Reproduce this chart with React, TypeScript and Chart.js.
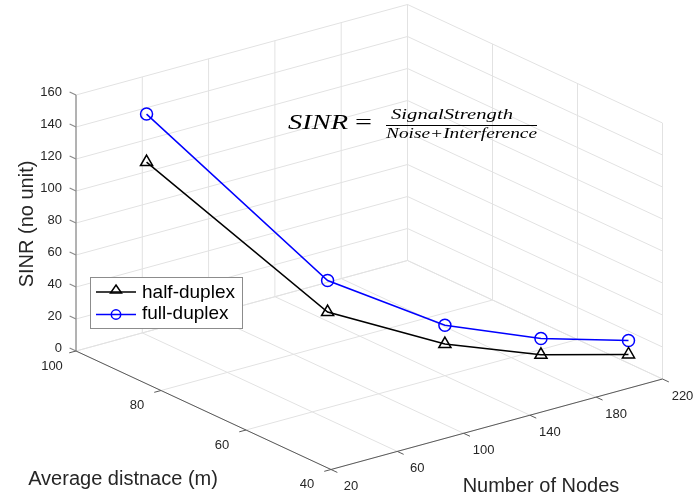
import React, { useEffect, useRef } from 'react';
import { Chart, registerables } from 'chart.js';

Chart.register(...registerables);

const W = 697;
const H = 497;

// ---- data ----
const nodeTicks = [20, 60, 100, 140, 180, 220];
const distanceTicks = [40, 60, 80, 100];
const sinrTicks = [0, 20, 40, 60, 80, 100, 120, 140, 160];

const numberOfNodes = [60, 100, 140, 180, 220];
const averageDistance = [99, 72, 60, 53, 48];
const halfDuplexSINR = [108, 36.3, 19.8, 10.4, 5.5];
const fullDuplexSINR = [138, 56, 31.5, 20.6, 14.2];

const seriesLabels = ['half-duplex', 'full-duplex'];
const axisTitles = { nodes: 'Number of Nodes', distance: 'Average distnace (m)', sinr: 'SINR (no unit)' };
const equation = { lhs: 'SINR', num: 'SignalStrength', den: 'Noise+Interference' };

// ---- 3D view (orthographic projection onto the page) ----
const VIEW = { ox: 76, oy: 351, n0: 20, d0: 100, nx: 1.6575, ny: -0.4525, dx: -4.25, dy: -1.975, zy: -1.6 };

function project(n: number, d: number, z: number) {
  return {
    x: VIEW.ox + (n - VIEW.n0) * VIEW.nx + (d - VIEW.d0) * VIEW.dx,
    y: VIEW.oy + (n - VIEW.n0) * VIEW.ny + (d - VIEW.d0) * VIEW.dy + z * VIEW.zy,
  };
}

const SANS = '"Liberation Sans", Arial, Helvetica, sans-serif';
const SERIF = '"Liberation Serif", "Times New Roman", serif';
const TEXT = '#262626';

function unit(x: number, y: number) {
  const l = Math.hypot(x, y);
  return [x / l, y / l];
}

const box3d = {
  id: 'box3d',
  beforeDatasetsDraw(chart: any) {
    const ctx = chart.ctx as CanvasRenderingContext2D;
    const sx = chart.scales.x;
    const sy = chart.scales.y;
    const P = (n: number, d: number, z: number) => {
      const p = project(n, d, z);
      return [sx.getPixelForValue(p.x), sy.getPixelForValue(p.y)];
    };
    const seg = (a: number[], b: number[]) => {
      ctx.beginPath();
      ctx.moveTo(a[0], a[1]);
      ctx.lineTo(b[0], b[1]);
      ctx.stroke();
    };
    const nMin = nodeTicks[0], nMax = nodeTicks[nodeTicks.length - 1];
    const dMin = distanceTicks[0], dMax = distanceTicks[distanceTicks.length - 1];
    const zMin = sinrTicks[0], zMax = sinrTicks[sinrTicks.length - 1];

    ctx.save();
    ctx.strokeStyle = '#e2e2e2';
    ctx.lineWidth = 1;
    // floor
    nodeTicks.forEach((n) => seg(P(n, dMax, zMin), P(n, dMin, zMin)));
    distanceTicks.forEach((d) => seg(P(nMin, d, zMin), P(nMax, d, zMin)));
    // back wall
    nodeTicks.forEach((n) => seg(P(n, dMax, zMin), P(n, dMax, zMax)));
    sinrTicks.forEach((z) => seg(P(nMin, dMax, z), P(nMax, dMax, z)));
    // side wall
    distanceTicks.forEach((d) => seg(P(nMax, d, zMin), P(nMax, d, zMax)));
    sinrTicks.forEach((z) => seg(P(nMax, dMax, z), P(nMax, dMin, z)));

    const nd = unit(VIEW.nx, VIEW.ny);
    const dd = unit(VIEW.dx, VIEW.dy);
    const TL = 7;

    // z axis
    ctx.strokeStyle = '#8a8a8a';
    ctx.lineWidth = 1.2;
    seg(P(nMin, dMax, zMin), P(nMin, dMax, zMax));
    sinrTicks.forEach((z) => {
      const a = P(nMin, dMax, z);
      seg(a, [a[0] + dd[0] * TL, a[1] + dd[1] * TL]);
    });
    // distance & nodes axes
    ctx.strokeStyle = '#5a5a5a';
    ctx.lineWidth = 1;
    seg(P(nMin, dMax, zMin), P(nMin, dMin, zMin));
    distanceTicks.forEach((d) => {
      const a = P(nMin, d, zMin);
      seg(a, [a[0] - nd[0] * TL, a[1] - nd[1] * TL]);
    });
    seg(P(nMin, dMin, zMin), P(nMax, dMin, zMin));
    nodeTicks.forEach((n) => {
      const a = P(n, dMin, zMin);
      seg(a, [a[0] - dd[0] * TL, a[1] - dd[1] * TL]);
    });

    // tick labels
    ctx.fillStyle = TEXT;
    ctx.font = `13px ${SANS}`;
    ctx.textBaseline = 'alphabetic';
    ctx.textAlign = 'right';
    sinrTicks.forEach((z) => {
      const a = P(nMin, dMax, z);
      ctx.fillText(String(z), a[0] - 14, a[1] + 1.4);
    });
    ctx.textAlign = 'center';
    distanceTicks.forEach((d) => {
      const a = P(nMin, d, zMin);
      ctx.fillText(String(d), a[0] - 24, a[1] + 18.5);
    });
    nodeTicks.forEach((n) => {
      const a = P(n, dMin, zMin);
      ctx.fillText(String(n), a[0] + 20, a[1] + 20.5);
    });

    // axis titles
    ctx.font = `20px ${SANS}`;
    ctx.textAlign = 'center';
    ctx.fillText(axisTitles.distance, 123, 485);
    ctx.fillText(axisTitles.nodes, 541, 491.5);
    ctx.save();
    ctx.translate(33, 224);
    ctx.rotate(-Math.PI / 2);
    ctx.fillText(axisTitles.sinr, 0, 0);
    ctx.restore();
    ctx.restore();
  },
  afterDatasetsDraw(chart: any) {
    const ctx = chart.ctx as CanvasRenderingContext2D;
    ctx.save();

    // equation
    const fitText = (t: string, x: number, baseline: number, width: number, font: string) => {
      ctx.font = font;
      const m = ctx.measureText(t).width;
      ctx.save();
      ctx.translate(x, baseline);
      ctx.scale(width / m, 1);
      ctx.textAlign = 'left';
      ctx.textBaseline = 'alphabetic';
      ctx.fillText(t, 0, 0);
      ctx.restore();
    };
    ctx.fillStyle = '#000';
    fitText(equation.lhs, 288, 129, 60, `italic 22px ${SERIF}`);
    fitText('=', 355, 129, 17, `22px ${SERIF}`);
    fitText(equation.num, 391, 119, 122, `italic 15px ${SERIF}`);
    fitText(equation.den, 386, 137.5, 151, `italic 15px ${SERIF}`);
    ctx.strokeStyle = '#000';
    ctx.lineWidth = 1;
    ctx.beginPath();
    ctx.moveTo(386, 125.5);
    ctx.lineTo(537, 125.5);
    ctx.stroke();

    // legend
    const lx = 90.5, ly = 277.5, lw = 152, lh = 51;
    ctx.fillStyle = '#ffffff';
    ctx.fillRect(lx, ly, lw, lh);
    ctx.strokeStyle = '#8c8c8c';
    ctx.lineWidth = 1;
    ctx.strokeRect(lx, ly, lw, lh);
    const rows = [292, 314.5];
    chart.data.datasets.forEach((ds: any, i: number) => {
      const y = rows[i];
      ctx.strokeStyle = ds.borderColor;
      ctx.lineWidth = 1.5;
      ctx.beginPath();
      ctx.moveTo(96, y);
      ctx.lineTo(136, y);
      ctx.stroke();
      const cx = 116;
      ctx.beginPath();
      if (ds.pointStyle === 'triangle') {
        ctx.moveTo(cx, y - 7);
        ctx.lineTo(cx + 5.5, y + 1);
        ctx.lineTo(cx - 5.5, y + 1);
        ctx.closePath();
      } else {
        ctx.arc(cx, y, 4.7, 0, Math.PI * 2);
      }
      ctx.stroke();
      ctx.fillStyle = '#000';
      ctx.font = `19px ${SANS}`;
      ctx.textAlign = 'left';
      ctx.textBaseline = 'middle';
      ctx.fillText(ds.label, 142, i === 0 ? 293 : 313.5);
    });
    ctx.restore();
  },
};

const toPoints = (vals: number[]) => numberOfNodes.map((n, i) => project(n, averageDistance[i], vals[i]));

export default function App() {
  const ref = useRef<HTMLCanvasElement | null>(null);
  useEffect(() => {
    document.body.style.margin = '0';
    if (!ref.current) return;
    const chart = new Chart(ref.current, {
      type: 'scatter',
      data: {
        datasets: [
          {
            label: seriesLabels[0],
            data: toPoints(halfDuplexSINR),
            showLine: true,
            borderColor: '#000000',
            backgroundColor: 'rgba(0,0,0,0)',
            borderWidth: 1.5,
            pointStyle: 'triangle',
            pointRadius: 7,
            pointBorderWidth: 1.5,
            pointBackgroundColor: 'rgba(0,0,0,0)',
            clip: false,
          },
          {
            label: seriesLabels[1],
            data: toPoints(fullDuplexSINR),
            showLine: true,
            borderColor: '#0000ff',
            backgroundColor: 'rgba(0,0,0,0)',
            borderWidth: 1.5,
            pointStyle: 'circle',
            pointRadius: 6,
            pointBorderWidth: 1.5,
            pointBackgroundColor: 'rgba(0,0,0,0)',
            clip: false,
          },
        ] as any,
      },
      options: {
        responsive: false,
        animation: false,
        layout: { padding: 0, autoPadding: false },
        plugins: { legend: { display: false }, tooltip: { enabled: false } },
        scales: {
          x: { type: 'linear', min: 0, max: W, display: false },
          y: { type: 'linear', min: 0, max: H, reverse: true, display: false },
        },
      },
      plugins: [box3d],
    });
    return () => chart.destroy();
  }, []);
  return (
    <canvas
      ref={ref}
      width={W}
      height={H}
      style={{ position: 'fixed', left: 0, top: 0, width: W, height: H, background: '#fff' }}
    />
  );
}
